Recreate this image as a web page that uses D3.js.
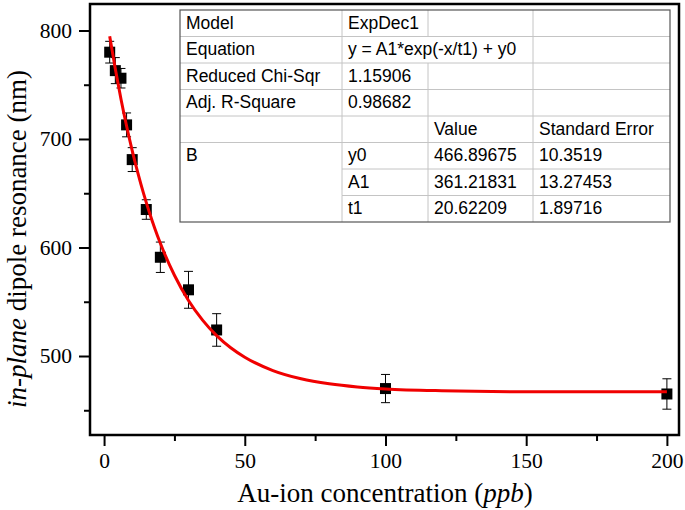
<!DOCTYPE html>
<html><head><meta charset="utf-8">
<script src="https://cdn.jsdelivr.net/npm/d3@7"></script>
<style>body{margin:0;background:#fff}</style>
</head><body><svg id="c" width="685" height="510"></svg>
<script>
// ---- data ----
const concentration = [2, 4, 6, 8, 10, 15, 20, 30, 40, 100, 200];
const resonance     = [780, 763, 756, 713, 681, 635, 591, 561, 524, 470, 465];
const resonanceErr  = [10, 12, 9, 11, 11, 9, 14, 17, 15, 13, 14];
// fitted ExpDec1 curve as drawn
const fitX = [2, 4, 6, 8, 10, 12, 14, 16, 18, 20, 25, 30, 35, 40, 45, 50, 60, 70, 80, 90, 100, 120, 150, 200];
const fitY = [794.7, 764.4, 736.9, 712.0, 689.3, 668.8, 650.1, 633.2, 617.8, 603.9, 574.4, 551.2, 533.1, 518.8, 507.6, 498.9, 486.6, 479.0, 474.4, 471.5, 469.7, 468.0, 467.1, 467.0];
const xTicks = [0, 50, 100, 150, 200];
const xMinorTicks = [25, 75, 125, 175];
const yTicks = [500, 600, 700, 800];
const yMinorTicks = [450, 550, 650, 750];
const tableCol1 = ["Model", "Equation", "Reduced Chi-Sqr", "Adj. R-Square", "", "B", "", ""];
const tableCol2 = ["ExpDec1", "y = A1*exp(-x/t1) + y0", "1.15906", "0.98682", "", "y0", "A1", "t1"];
const tableCol3 = ["", "", "", "", "Value", "466.89675", "361.21831", "20.62209"];
const tableCol4 = ["", "", "", "", "Standard Error", "10.3519", "13.27453", "1.89716"];

// ---- layout ----
const svg = d3.select("#c");
const L = 90, R = 679, T = 4, B = 435;
const x = d3.scaleLinear().domain([-5, 204.3]).range([L, R]);
const y = d3.scaleLinear().domain([427.2, 824.4]).range([B, T]);
const serif = "'Liberation Serif','Times New Roman',serif";
const sans = "'Liberation Sans',Arial,sans-serif";

// axes ticks
function styleAxis(g){
  g.select(".domain").remove();
  g.selectAll(".tick line").attr("stroke","#000").attr("stroke-width",2);
  g.selectAll(".tick text").attr("font-family",serif).attr("font-size",21.5).attr("fill","#000");
}
svg.append("g").attr("transform",`translate(0,${B})`)
  .call(d3.axisBottom(x).tickValues(xTicks).tickSize(11).tickPadding(7).tickFormat(d3.format("d")))
  .call(styleAxis);
svg.append("g").attr("transform",`translate(0,${B})`)
  .call(d3.axisBottom(x).tickValues(xMinorTicks).tickSize(6).tickFormat(""))
  .call(styleAxis);
svg.append("g").attr("transform",`translate(${L},0)`)
  .call(d3.axisLeft(y).tickValues(yTicks).tickSize(11).tickPadding(7).tickFormat(d3.format("d")))
  .call(styleAxis);
svg.append("g").attr("transform",`translate(${L},0)`)
  .call(d3.axisLeft(y).tickValues(yMinorTicks).tickSize(6).tickFormat(""))
  .call(styleAxis);

// frame
svg.append("rect").attr("x",L).attr("y",T).attr("width",R-L).attr("height",B-T)
  .attr("fill","none").attr("stroke","#000").attr("stroke-width",2.5);

// table
const tL = 180, tR = 670, tTop = 10, rowH = 26.5;
const colX = [180, 342, 428, 533, 670];
const tg = svg.append("g");
const nRows = tableCol1.length;
for (let i = 1; i < nRows; i++) {
  const yy = tTop + i*rowH;
  const x0 = (i === 6 || i === 7) ? colX[1] : tL;
  tg.append("line").attr("x1",x0).attr("x2",tR).attr("y1",yy).attr("y2",yy)
    .attr("stroke","#c4c4c4").attr("stroke-width",1);
}
for (let i = 0; i < nRows; i++) {
  const y0 = tTop + i*rowH, y1 = y0 + rowH;
  [1,2,3].forEach(c => {
    if (c === 2 && i === 1) return;
    tg.append("line").attr("x1",colX[c]).attr("x2",colX[c]).attr("y1",y0).attr("y2",y1)
      .attr("stroke","#c4c4c4").attr("stroke-width",1);
  });
}
tg.append("rect").attr("x",tL).attr("y",tTop).attr("width",tR-tL).attr("height",nRows*rowH)
  .attr("fill","none").attr("stroke","#555").attr("stroke-width",1.2);
[tableCol1, tableCol2, tableCol3, tableCol4].forEach((col, c) => {
  tg.selectAll(null).data(col).enter().append("text")
    .attr("x", colX[c] + 6)
    .attr("y", (d,i) => tTop + i*rowH + 18.5)
    .attr("font-family", sans).attr("font-size", 17.5).attr("fill","#000")
    .text(d => d);
});

// data
const pts = concentration.map((c,i) => ({x:c, y:resonance[i], e:resonanceErr[i]}));
const eb = svg.append("g").attr("stroke","#000").attr("stroke-width",1);
pts.forEach(p => {
  const px = x(p.x);
  eb.append("line").attr("x1",px).attr("x2",px).attr("y1",y(p.y+p.e)).attr("y2",y(p.y-p.e));
  eb.append("line").attr("x1",px-4.5).attr("x2",px+4.5).attr("y1",y(p.y+p.e)).attr("y2",y(p.y+p.e));
  eb.append("line").attr("x1",px-4.5).attr("x2",px+4.5).attr("y1",y(p.y-p.e)).attr("y2",y(p.y-p.e));
});
svg.append("g").selectAll("rect").data(pts).enter().append("rect")
  .attr("x", d => x(d.x)-5.5).attr("y", d => y(d.y)-5.5).attr("width",11).attr("height",11).attr("fill","#000");

// fit curve
const line = d3.line().x(d => x(d[0])).y(d => y(d[1])).curve(d3.curveMonotoneX);
svg.append("path").datum(fitX.map((v,i)=>[v, fitY[i]]))
  .attr("d", line).attr("fill","none").attr("stroke","#f00000").attr("stroke-width",3);

// axis titles
const xt = svg.append("text").attr("x", 385).attr("y", 502).attr("text-anchor","middle")
  .attr("font-family", serif).attr("font-size", 27).attr("fill","#000");
xt.append("tspan").text("Au-ion concentration (");
xt.append("tspan").attr("font-style","italic").text("ppb");
xt.append("tspan").text(")");

const yt = svg.append("text").attr("transform","translate(26,239) rotate(-90)").attr("text-anchor","middle")
  .attr("font-family", serif).attr("font-size", 27).attr("fill","#000");
yt.append("tspan").attr("font-style","italic").text("in-plane");
yt.append("tspan").text(" dipole resonance (nm)");
</script>
</body></html>
